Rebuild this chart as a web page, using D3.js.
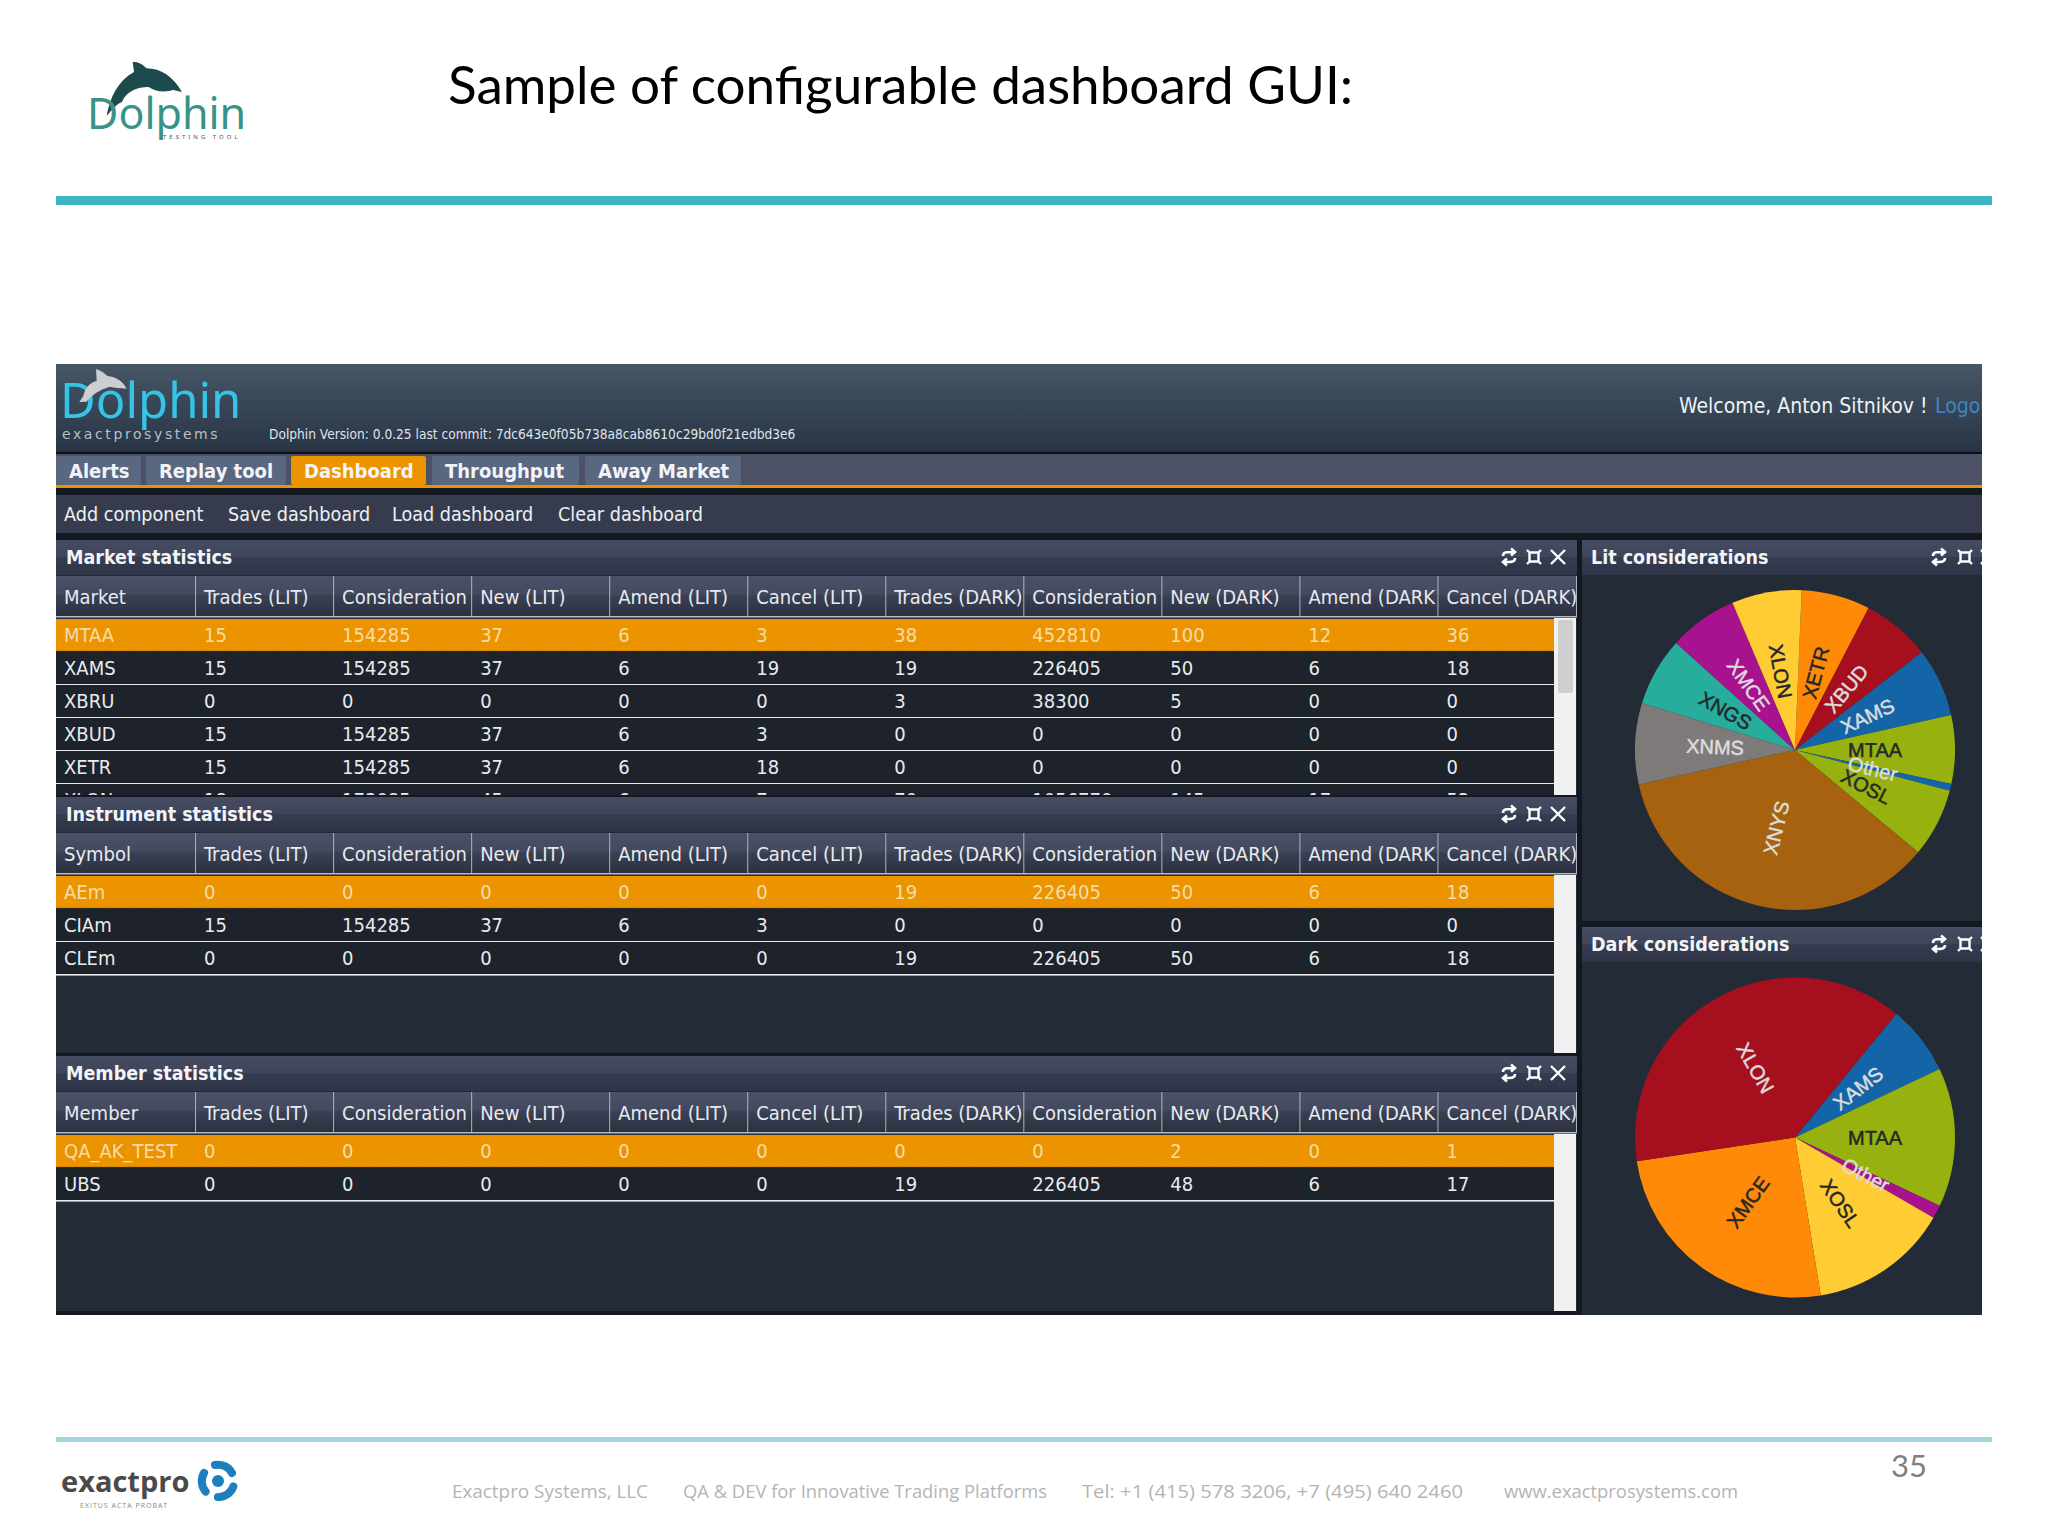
<!DOCTYPE html>
<html>
<head>
<meta charset="utf-8">
<script src="https://cdn.jsdelivr.net/npm/d3@7"></script>
<style>
  html, body { margin: 0; padding: 0; background: #fff; }
  svg { display: block; }
  text { font-family: "DejaVu Sans Condensed", "DejaVu Sans", sans-serif; }
</style>
</head>
<body>
<div id="chart"></div>
<script>
// table data
const statColumns = ["Trades (LIT)", "Consideration", "New (LIT)", "Amend (LIT)", "Cancel (LIT)", "Trades (DARK)", "Consideration", "New (DARK)", "Amend (DARK)", "Cancel (DARK)"];
const marketRows = [
  ["MTAA", 15, 154285, 37, 6, 3, 38, 452810, 100, 12, 36],
  ["XAMS", 15, 154285, 37, 6, 19, 19, 226405, 50, 6, 18],
  ["XBRU", 0, 0, 0, 0, 0, 3, 38300, 5, 0, 0],
  ["XBUD", 15, 154285, 37, 6, 3, 0, 0, 0, 0, 0],
  ["XETR", 15, 154285, 37, 6, 18, 0, 0, 0, 0, 0],
  ["XLON", 18, 173085, 45, 6, 7, 70, 1056770, 145, 17, 52]
];
const instrumentRows = [
  ["AEm", 0, 0, 0, 0, 0, 19, 226405, 50, 6, 18],
  ["CIAm", 15, 154285, 37, 6, 3, 0, 0, 0, 0, 0],
  ["CLEm", 0, 0, 0, 0, 0, 19, 226405, 50, 6, 18]
];
const memberRows = [
  ["QA_AK_TEST", 0, 0, 0, 0, 0, 0, 0, 2, 0, 1],
  ["UBS", 0, 0, 0, 0, 0, 19, 226405, 48, 6, 17]
];

// pie slices, clockwise as drawn
const litMarkets = ["XETR", "XBUD", "XAMS", "MTAA", "Other", "XOSL", "XNYS", "XNMS", "XNGS", "XMCE", "XLON"];
const litValues = [154285, 154285, 154285, 154285, 15000, 154285, 790000, 182000, 154285, 154285, 157000];
const darkMarkets = ["XAMS", "MTAA", "Other", "XOSL", "XMCE", "XLON"];
const darkValues = [226405, 452810, 43000, 452810, 811000, 1232000];

const litPalette = ["#ff8a07", "#a50f1e", "#1464a8", "#97b20e", "#1464a8", "#97b20e", "#a6620f", "#7f7a7a", "#27ad9b", "#a8128f", "#ffcc33"];
const darkPalette = ["#1464a8", "#97b20e", "#a8128f", "#ffcc33", "#ff8a07", "#a50f1e"];

const navTabs = ["Alerts", "Replay tool", "Dashboard", "Throughput", "Away Market"];
const toolLinks = ["Add component", "Save dashboard", "Load dashboard", "Clear dashboard"];

const svg = d3.select("#chart").append("svg").attr("width", 2048).attr("height", 1536);
const defs = svg.append("defs");

function addGradient(id, stops) {
  const g = defs.append("linearGradient").attr("id", id).attr("x1", 0).attr("y1", 0).attr("x2", 0).attr("y2", 1);
  stops.forEach(s => g.append("stop").attr("offset", s[0]).attr("stop-color", s[1]));
}
addGradient("topGrad", [[0, "#465766"], [1, "#283444"]]);
addGradient("panelGrad", [[0, "#454c63"], [0.47, "#3f465b"], [0.5, "#363c50"], [1, "#2f3547"]]);
addGradient("headGrad", [[0, "#4b5268"], [0.45, "#434a5f"], [0.5, "#3a4053"], [1, "#2c3140"]]);

function clip(id, x, y, w, h) {
  defs.append("clipPath").attr("id", id).append("rect").attr("x", x).attr("y", y).attr("width", w).attr("height", h);
}
clip("dashClip", 56, 364, 1926, 951);

// slide furniture
svg.append("text").attr("x", 448).attr("y", 104)
  .style("font-family", "Lato").style("font-size", "53px").attr("fill", "#000")
  .text("Sample of configurable dashboard GUI:");
svg.append("rect").attr("x", 56).attr("y", 196).attr("width", 1936).attr("height", 9).attr("fill", "#3fb4c3");

const slideLogo = svg.append("g");
slideLogo.append("path")
  .attr("transform", "translate(60,40) scale(0.3333)")
  .attr("d", "M140,228 C150,170 175,122 222,96 L218,65 C236,65 250,75 260,85 C302,85 340,110 366,156 L340,150 C320,156 290,158 266,141 C240,140 200,150 186,186 C170,192 160,205 140,228Z")
  .attr("fill", "#1d4a4c");
slideLogo.append("text").attr("x", 87).attr("y", 129)
  .style("font-family", "Noto Sans").style("font-size", "43px").attr("fill", "#3a9188").text("Dolphin");
slideLogo.append("text").attr("x", 163).attr("y", 139)
  .style("font-family", "Noto Sans").style("font-size", "6px").style("letter-spacing", "3px").attr("fill", "#555").text("TESTING TOOL");

svg.append("rect").attr("x", 56).attr("y", 1437).attr("width", 1936).attr("height", 5).attr("fill", "#a9d3da");
svg.append("text").attr("x", 1891).attr("y", 1477)
  .style("font-family", "Lato").style("font-size", "31px").attr("fill", "#7f7f7f").text("35");

const footerItems = [["Exactpro Systems, LLC", 452, 196], ["QA & DEV for Innovative Trading Platforms", 683, 364], ["Tel: +1 (415) 578 3206, +7 (495) 640 2460", 1082, 381], ["www.exactprosystems.com", 1504, 234]];
svg.selectAll(".foot").data(footerItems).enter().append("text")
  .attr("class", "foot").attr("x", d => d[1]).attr("y", 1498)
  .attr("textLength", d => d[2]).attr("lengthAdjust", "spacingAndGlyphs")
  .style("font-family", "Open Sans").style("font-size", "19px").attr("fill", "#b4b4b4").text(d => d[0]);

svg.append("text").attr("x", 61).attr("y", 1492)
  .style("font-family", "Open Sans").style("font-weight", 700).style("font-size", "29px").attr("fill", "#4a4a4a").text("exactpro");
svg.append("text").attr("x", 80).attr("y", 1508)
  .style("font-family", "Open Sans").style("font-size", "7px").style("letter-spacing", "1px").attr("fill", "#888").text("EXITUS ACTA PROBAT");
const swirl = svg.append("g").attr("transform", "translate(218,1481)");
swirl.append("circle").attr("r", 6).attr("fill", "#1e7fbf");
[0, 120, 240].forEach(a => {
  swirl.append("path").attr("transform", "rotate(" + a + ")")
    .attr("d", "M-3,-16 A 16 16 0 0 1 14,-8")
    .attr("fill", "none").attr("stroke", "#1e7fbf").attr("stroke-width", 8).attr("stroke-linecap", "round");
});

// dashboard
const dash = svg.append("g").attr("clip-path", "url(#dashClip)");
dash.append("rect").attr("x", 56).attr("y", 364).attr("width", 1926).attr("height", 951).attr("fill", "#141820");
dash.append("rect").attr("x", 56).attr("y", 364).attr("width", 1926).attr("height", 88).attr("fill", "url(#topGrad)");
dash.append("rect").attr("x", 56).attr("y", 452).attr("width", 1926).attr("height", 2).attr("fill", "#0e1116");

const topLogo = dash.append("g");
topLogo.append("text").attr("x", 60).attr("y", 418)
  .style("font-family", "Noto Sans").style("font-size", "49px").attr("fill", "#35c3e6").text("Dolphin");
topLogo.append("path")
  .attr("transform", "translate(50,360) scale(0.3333)")
  .attr("d", "M88,126 L100,108 C105,85 118,68 140,62 L138,28 C155,32 165,42 172,48 C198,50 220,65 230,86 C210,84 195,84 180,80 C150,88 125,105 110,125 Z")
  .attr("fill", "#ccced2");
topLogo.append("text").attr("x", 62).attr("y", 439)
  .style("font-family", "DejaVu Sans").style("font-size", "14px").style("letter-spacing", "2.6px").attr("fill", "#b9bfc6").text("exactprosystems");
dash.append("text").attr("x", 269).attr("y", 439).style("font-size", "13.6px").attr("fill", "#dfe5ea")
  .text("Dolphin Version: 0.0.25 last commit: 7dc643e0f05b738a8cab8610c29bd0f21edbd3e6");
dash.append("text").attr("x", 1679).attr("y", 413).style("font-size", "21px").attr("fill", "#eef2f5").text("Welcome, Anton Sitnikov !");
dash.append("text").attr("x", 1935).attr("y", 413).style("font-size", "21px").attr("fill", "#3d85c6").text("Logout");

// nav bar
dash.append("rect").attr("x", 56).attr("y", 454).attr("width", 1926).attr("height", 31).attr("fill", "#4c5166");
dash.append("rect").attr("x", 56).attr("y", 485).attr("width", 1926).attr("height", 3).attr("fill", "#ec9400");
const tabEdges = [[56, 141], [146, 286], [291, 426], [432, 579], [585, 741]];
const tabs = dash.selectAll(".tab").data(navTabs).enter().append("g").attr("class", "tab");
tabs.append("rect")
  .attr("x", (d, i) => tabEdges[i][0]).attr("y", 456)
  .attr("width", (d, i) => tabEdges[i][1] - tabEdges[i][0]).attr("height", 29)
  .attr("rx", 2)
  .attr("fill", d => d === "Dashboard" ? "#ec9400" : "#5a6780");
tabs.append("text")
  .attr("x", (d, i) => tabEdges[i][0] + 13).attr("y", 478)
  .style("font-size", "20px").style("font-weight", 700).attr("fill", "#f2f4f7").text(d => d);

// toolbar
dash.append("rect").attr("x", 56).attr("y", 495).attr("width", 1926).attr("height", 38).attr("fill", "#363c4e");
const toolX = [64, 228, 392, 558];
dash.selectAll(".tool").data(toolLinks).enter().append("text").attr("class", "tool")
  .attr("x", (d, i) => toolX[i]).attr("y", 521)
  .style("font-size", "19.6px").attr("fill", "#eef0f3").text(d => d);

// table columns are shared by the three stat panels
const colNames = d3.range(11);
const colX = d3.scaleBand().domain(colNames).range([57, 1575.5]);
colNames.forEach(c => clip("col" + c, colX(c), 30, colX.bandwidth() - 1, 50));
const rowY = d3.scaleLinear().domain([0, 1]).range([79, 112]);

function panelIcons(g, xs, y) {
  const ig = g.append("g").attr("fill", "none").attr("stroke", "#fff");
  // refresh
  ig.append("path").attr("transform", "translate(" + xs[0] + "," + y + ")").attr("stroke-width", 2.6)
    .attr("d", "M-6,-1 C-6,-5 -3,-5 4,-5 M2,-8.5 L6,-5 L2,-1.5 M6,1 C6,5 3,5 -4,5 M-2,1.5 L-6,5 L-2,8.5");
  // maximise
  ig.append("path").attr("transform", "translate(" + xs[1] + "," + y + ")").attr("stroke-width", 2.4)
    .attr("d", "M-4.5,-4.5 H4.5 V4.5 H-4.5 Z M-7,-7 L-4.5,-4.5 M7,-7 L4.5,-4.5 M7,7 L4.5,4.5 M-7,7 L-4.5,4.5");
  // close
  ig.append("path").attr("transform", "translate(" + xs[2] + "," + y + ")").attr("stroke-width", 2.4)
    .attr("d", "M-7,-7 L7,7 M7,-7 L-7,7");
}

function drawStatPanel(top, title, firstCol, rows, bodyBottom, withThumb) {
  const p = dash.append("g").attr("transform", "translate(0," + top + ")");
  const clipId = "body" + top;
  clip(clipId, 56, top + 77, 1521, bodyBottom - top - 77);

  p.append("rect").attr("x", 56).attr("y", 0).attr("width", 1521).attr("height", bodyBottom - top).attr("fill", "#232b36");
  p.append("rect").attr("x", 56).attr("y", 0).attr("width", 1521).attr("height", 35).attr("fill", "url(#panelGrad)");
  p.append("text").attr("x", 66).attr("y", 23.5).style("font-size", "19.5px").style("font-weight", 700).attr("fill", "#f2f4f7").text(title);
  panelIcons(p, [1509, 1534, 1558], 17);

  // header row
  p.append("rect").attr("x", 56).attr("y", 36).attr("width", 1521).attr("height", 40).attr("fill", "url(#headGrad)");
  p.append("rect").attr("x", 56).attr("y", 76).attr("width", 1521).attr("height", 1.5).attr("fill", "#b4b8c0");
  const heads = [firstCol].concat(statColumns);
  heads.forEach((h, c) => {
    if (c > 0) {
      p.append("rect").attr("x", colX(c)).attr("y", 36).attr("width", 1).attr("height", 40).attr("fill", "#aeb3bd");
    }
    const t = p.append("text").attr("x", colX(c) + (c === 0 ? 7 : 9)).attr("y", 64)
      .style("font-size", "20px").attr("fill", "#e8ebef").text(h);
    if (c < 10) t.attr("clip-path", "url(#col" + c + ")");
  });
  p.append("rect").attr("x", 1576).attr("y", 36).attr("width", 1).attr("height", 41).attr("fill", "#aeb3bd");

  // scroll track
  p.append("rect").attr("x", 1554).attr("y", 78).attr("width", 22).attr("height", bodyBottom - top - 78).attr("fill", "#f1f1f1");
  if (withThumb) {
    p.append("rect").attr("x", 1558).attr("y", 80).attr("width", 15).attr("height", 73).attr("rx", 2).attr("fill", "#cfcfcf");
  }

  // rows
  const holder = dash.append("g").attr("clip-path", "url(#" + clipId + ")");
  const body = holder.append("g").attr("transform", "translate(0," + top + ")");
  const row = body.selectAll(".row").data(rows).enter().append("g").attr("class", "row");
  row.append("rect")
    .attr("x", 56).attr("y", (d, i) => rowY(i)).attr("width", 1498).attr("height", 32)
    .attr("fill", (d, i) => i === 0 ? "#ec9400" : "#1d222b");
  row.filter((d, i) => i > 0).append("rect")
    .attr("x", 56).attr("y", (d, i) => rowY(i + 1) + 32).attr("width", 1498).attr("height", 1.6).attr("fill", "#e6e8ea");
  row.each(function (d, i) {
    d3.select(this).selectAll("text").data(d).enter().append("text")
      .attr("x", (v, c) => colX(c) + (c === 0 ? 7 : 9)).attr("y", rowY(i) + 23)
      .style("font-size", "20px").attr("fill", i === 0 ? "#f6dca8" : "#e8ebef").text(v => v);
  });
  body.append("line").attr("x1", 56).attr("x2", 1554).attr("y1", 111.5).attr("y2", 111.5)
    .attr("stroke", "#3a2f14").attr("stroke-width", 1.5).attr("stroke-dasharray", "1.5 1.5");
}

drawStatPanel(540, "Market statistics", "Market", marketRows, 795, true);
drawStatPanel(797, "Instrument statistics", "Symbol", instrumentRows, 1053, false);
drawStatPanel(1056, "Member statistics", "Member", memberRows, 1311, false);

// pie panels
function drawPiePanel(top, bottom, title, names, values, palette, startDeg, cy) {
  const p = dash.append("g");
  p.append("rect").attr("x", 1582).attr("y", top).attr("width", 400).attr("height", bottom - top).attr("fill", "#232b36");
  p.append("rect").attr("x", 1582).attr("y", top).attr("width", 400).attr("height", 35).attr("fill", "url(#panelGrad)");
  p.append("text").attr("x", 1591).attr("y", top + 24).style("font-size", "19.5px").style("font-weight", 700).attr("fill", "#f2f4f7").text(title);
  panelIcons(p, [1939, 1965, 1988], top + 17);

  const slices = names.map((n, i) => ({ name: n, value: values[i] }));
  const color = d3.scaleOrdinal().domain(d3.range(names.length)).range(palette);
  const start = startDeg * Math.PI / 180;
  const pie = d3.pie().value(d => d.value).sort(null).startAngle(start).endAngle(start + 2 * Math.PI);
  const radius = 160;
  const arc = d3.arc().innerRadius(0).outerRadius(radius);

  const g = p.append("g").attr("transform", "translate(1795," + cy + ")");
  const arcs = pie(slices);
  g.selectAll("path").data(arcs).enter().append("path")
    .attr("d", arc).attr("fill", (d, i) => color(i));
  g.selectAll("text").data(arcs).enter().append("text")
    .attr("transform", d => {
      const c = arc.centroid(d);
      const mid = ((d.startAngle + d.endAngle) / 2 * 180 / Math.PI) % 360;
      const rot = mid < 180 ? mid - 90 : mid - 270;
      return "translate(" + c[0] + "," + c[1] + ") rotate(" + rot + ")";
    })
    .attr("text-anchor", "middle").attr("dy", "0.36em")
    .style("font-family", "Liberation Sans").style("font-size", "20px")
    .attr("fill", (d, i) => d3.lab(color(i)).l > 55 ? "#24282c" : "#dcdcdc")
    .attr("stroke", (d, i) => d3.lab(color(i)).l > 55 ? "#24282c" : "#dcdcdc")
    .attr("stroke-width", 0.5)
    .text(d => d.data.name);
}

drawPiePanel(540, 921, "Lit considerations", litMarkets, litValues, litPalette, 2.4, 750);
drawPiePanel(927, 1315, "Dark considerations", darkMarkets, darkValues, darkPalette, 39.3, 1137.5);
</script>
</body>
</html>
